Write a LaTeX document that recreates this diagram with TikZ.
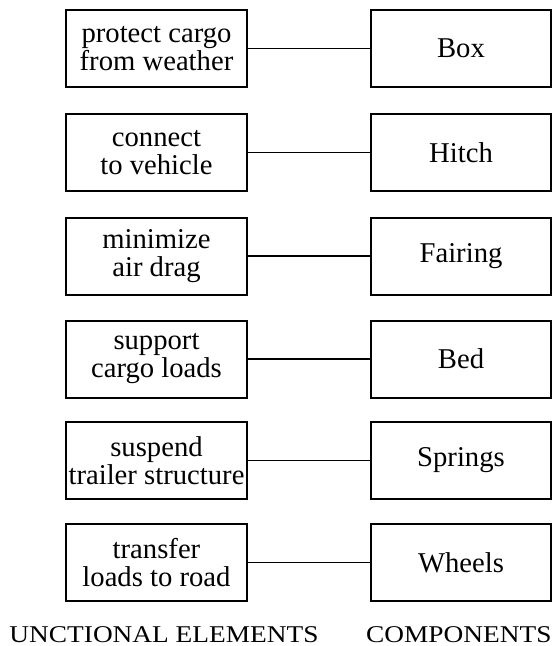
\documentclass[tikz,border=0pt]{standalone}
\usepackage{fontspec}
\usepackage{graphicx}
\setmainfont{Liberation Serif}

\tikzset{every picture/.style={line width=0.75pt}}
\tikzset{
  fnbox/.style={draw, line width=1.5pt, minimum width=135.75pt, minimum height=57.75pt, inner sep=0pt, align=center, font=\fontsize{21.5}{21}\selectfont},
  partbox/.style={fnbox, minimum width=135pt},
  link/.style={line width=1.3pt},
  colhead/.style={inner sep=0pt, font=\fontsize{20.5}{24}\selectfont}
}

\begin{document}
\begin{tikzpicture}[x=0.75pt,y=0.75pt,yscale=-1,xscale=1]
%set diagram left start at 0, and has height of 646
\path[use as bounding box] (0,0) rectangle (556,646);

% Functional elements
\node[fnbox] (weather) at (156.5,48.5) {protect cargo\\from weather};
\node[fnbox] (vehicle) at (156.5,152.5) {connect\\to vehicle};
\node[fnbox] (drag) at (156.5,256) {minimize\\air drag};
\node[fnbox] (loads) at (156.5,359) {support\\cargo loads};
\node[fnbox] (suspend) at (156.5,460.5) {suspend\\trailer structure};
\node[fnbox] (road) at (156.5,562.5) {transfer\\loads to road};

% Components
\node[partbox] (box) at (461,48.5) {Box};
\node[partbox] (hitch) at (461,152.5) {Hitch};
\node[partbox] (fairing) at (461,256) {Fairing};
\node[partbox] (bed) at (461,359) {Bed};
\node[partbox] (springs) at (461,460.5) {Springs};
\node[partbox] (wheels) at (461,562.5) {Wheels};

%Straight Lines
\draw[link] (weather) -- (box);
\draw[link] (vehicle) -- (hitch);
\draw[link] (drag) -- (fairing);
\draw[link] (loads) -- (bed);
\draw[link] (suspend) -- (springs);
\draw[link] (road) -- (wheels);

% Text Node
\node[colhead, anchor=base west] (fnhead) at (9,642) {\scalebox{1}[0.88]{UNCTIONAL ELEMENTS}};
% Text Node
\node[colhead, anchor=base east] (parthead) at (552,642) {\scalebox{1}[0.88]{COMPONENTS}};

\end{tikzpicture}
\end{document}
